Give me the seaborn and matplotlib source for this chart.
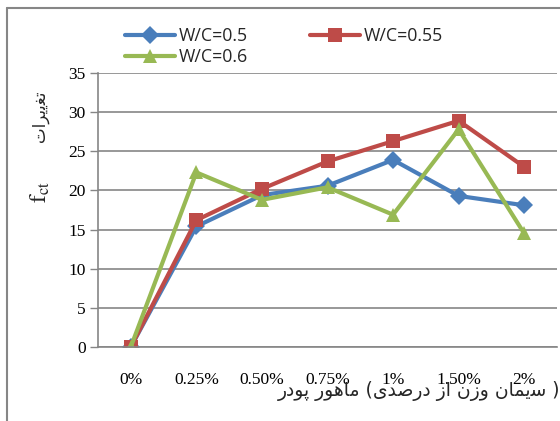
import numpy as np
import pandas as pd
import matplotlib
matplotlib.use("Agg")
import matplotlib.pyplot as plt
import seaborn as sns
from matplotlib.lines import Line2D

categories = ["0%", "0.25%", "0.50%", "0.75%", "1%", "1.50%", "2%"]
wc_05 = [0, 15.4, 19.4, 20.6, 23.9, 19.3, 18.1]
wc_055 = [0, 16.2, 20.2, 23.7, 26.3, 28.9, 23.0]
wc_06 = [0, 22.3, 18.8, 20.4, 16.9, 27.8, 14.5]
series_names = ["W/C=0.5", "W/C=0.55", "W/C=0.6"]
y_ticks = [0, 5, 10, 15, 20, 25, 30, 35]

# Persian text (presentation forms, visual order)
xlabel_fa = ("\uFEAD\uFEA9\uFEEE\uFB58 "
             "\uFEAD\uFEEE\uFEEB\uFE8E\uFEE3 "
             "(\uFBFC\uFEAA\uFEBB\uFEAD\uFEA9 "
             "\uFEAF\uFE8D "
             "\uFEE5\uFEAF\uFEED "
             "\uFEE5\uFE8E\uFEE4\uFBFE\uFEB3 )")
ylabel_fa = "\uFE95\uFE8D\uFEAE\uFBFE\uFBFE\uFED0\uFE97"

df = pd.DataFrame({
    "cat": categories * 3,
    "val": wc_05 + wc_055 + wc_06,
    "series": [series_names[0]] * 7 + [series_names[1]] * 7 + [series_names[2]] * 7,
})

sns.set_theme(style="white")
plt.rcParams["mathtext.fontset"] = "stix"

fig = plt.figure(figsize=(5.6, 4.21), dpi=100)
ax = fig.add_axes([98 / 560, 1 - 347 / 421, (557 - 98) / 560, (347 - 73) / 421])

palette = {"W/C=0.5": "#4A7EBB", "W/C=0.55": "#BE4B48", "W/C=0.6": "#98B954"}
markers = {"W/C=0.5": "D", "W/C=0.55": "s", "W/C=0.6": "^"}
sns.lineplot(data=df, x="cat", y="val", hue="series", style="series",
             palette=palette, markers=markers, dashes=False, sort=False,
             linewidth=3.0, markersize=9.5, markeredgewidth=0, ax=ax,
             legend=False)

ax.set_ylim(0, 35)
ax.set_xlim(-0.5, 6.5)
ax.set_yticks(y_ticks)
ax.set_yticklabels([str(v) for v in y_ticks], fontfamily="Liberation Serif",
                   fontsize=12.5, color="black")
ax.set_xticks(range(len(categories)))
ax.set_xticklabels(categories, fontfamily="Liberation Serif", fontsize=12.5,
                   color="black")
ax.set_xticks(np.arange(-0.5, 7.0, 1.0), minor=True)
ax.tick_params(axis="x", which="major", length=0, pad=18)
ax.tick_params(axis="x", which="minor", length=4, width=1, color="#868686",
               direction="out")
ax.tick_params(axis="y", which="major", length=6, width=1, color="#868686",
               direction="out", pad=3, left=True)
ax.yaxis.grid(True, color="#868686", linewidth=1.2)
ax.xaxis.grid(False)
for s in ["top", "right"]:
    ax.spines[s].set_visible(False)
for s in ["left", "bottom"]:
    ax.spines[s].set_color("#868686")
    ax.spines[s].set_linewidth(1.2)
ax.set_xlabel("")
ax.set_ylabel("")
ax.set_facecolor("white")

# legend
handles = []
for name in series_names:
    handles.append(Line2D([0], [0], color=palette[name], marker=markers[name],
                          linewidth=3.0, markersize=9.5, markeredgewidth=0,
                          label=name))
order = [0, 2, 1]
fig.legend([handles[i] for i in order], [series_names[i] for i in order],
           ncol=2, loc="upper left", bbox_to_anchor=(118 / 560, 1 - 20 / 421),
           frameon=False, prop={"family": "Open Sans", "size": 12.8},
           handlelength=2.8, columnspacing=3.5, labelspacing=0.15,
           handletextpad=0.2, borderaxespad=0)

# axis titles
fig.text(560 / 560, 1 - 391 / 421, xlabel_fa, ha="right", va="center",
         fontfamily="DejaVu Sans", fontsize=13.5)
fig.text(40 / 560, 1 - 192 / 421, r"$\mathrm{f_{ct}}$", rotation=90,
         ha="center", va="center", fontsize=17)
fig.text(40 / 560, 1 - 116 / 421, ylabel_fa, rotation=90,
         ha="center", va="center", fontfamily="DejaVu Sans", fontsize=12)

# outer frame lines
fig.add_artist(Line2D([7 / 560, 7 / 560], [0, 1 - 8 / 421],
                      transform=fig.transFigure, color="#868686", linewidth=1.5))
fig.add_artist(Line2D([7 / 560, 1], [1 - 8 / 421, 1 - 8 / 421],
                      transform=fig.transFigure, color="#868686", linewidth=1.5))

fig.savefig("out.png", dpi=100, facecolor="white")
